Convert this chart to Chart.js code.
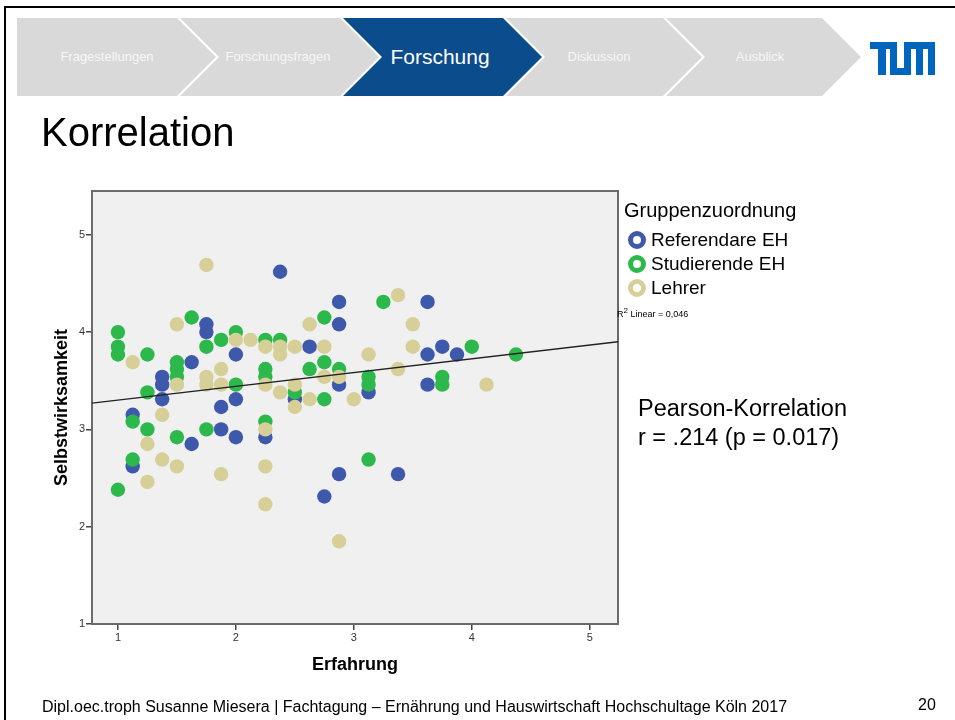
<!DOCTYPE html>
<html lang="de">
<head>
  <meta charset="UTF-8">
  <title>Korrelation</title>
  <script src="https://cdn.jsdelivr.net/npm/chart.js"></script>
  <style>
    body {
      margin: 0;
      width: 955px;
      height: 720px;
      position: relative;
      overflow: hidden;
      background: #ffffff;
      font-family: "Liberation Sans", Arial, sans-serif;
      color: #000;
    }

    #frame {
      position: absolute;
      left: 4px;
      top: 6px;
      width: 960px;
      height: 720px;
      border-left: 2px solid #000;
      border-top: 2px solid #000;
    }

    #chartBox {
      position: absolute;
      left: 0;
      top: 0;
    }

    .txt {
      position: absolute;
      white-space: nowrap;
    }

    .ring {
      position: absolute;
      width: 8px;
      height: 8px;
      border-radius: 50%;
      border: 5.5px solid;
      background: #fff;
    }
  </style>
</head>
<body>
  <div id="frame"></div>

  <svg id="header" width="955" height="110" style="position:absolute;left:0;top:0">
    <polygon points="17,18 177,18 216,57 177,96 17,96" fill="#d9d9d9"/>
    <polygon points="180,18 340,18 379,57 340,96 180,96 219,57" fill="#d9d9d9"/>
    <polygon points="343,18 503,18 542,57 503,96 343,96 382,57" fill="#0a4c8c"/>
    <polygon points="506,18 663,18 702,57 663,96 506,96 545,57" fill="#d9d9d9"/>
    <polygon points="666,18 822,18 861,57 822,96 666,96 705,57" fill="#d9d9d9"/>
    <g font-family="Liberation Sans, Arial, sans-serif" text-anchor="middle" fill="#f7f7f7" font-size="13">
      <text x="107" y="61">Fragestellungen</text>
      <text x="278" y="61">Forschungsfragen</text>
      <text x="440" y="64" font-size="21" fill="#ffffff">Forschung</text>
      <text x="599" y="61">Diskussion</text>
      <text x="760" y="61">Ausblick</text>
    </g>
    <g fill="#0065bd">
      <rect x="870" y="42" width="24" height="7"/>
      <rect x="878" y="42" width="8" height="33"/>
      <rect x="890" y="42" width="7" height="33"/>
      <rect x="890" y="68" width="21" height="7"/>
      <rect x="904" y="42" width="7" height="33"/>
      <rect x="904" y="42" width="31" height="7"/>
      <rect x="916" y="42" width="7" height="33"/>
      <rect x="928" y="42" width="7" height="33"/>
    </g>
  </svg>

  <div id="chartBox"><canvas id="scatter" width="955" height="720"></canvas></div>

  <div class="txt" style="left:41px;top:110px;font-size:40px">Korrelation</div>

  <div class="txt" style="left:624px;top:199px;font-size:20px">Gruppenzuordnung</div>
  <div class="ring" style="left:628px;top:231px;border-color:#3e58ac"></div>
  <div class="txt" style="left:651px;top:229px;font-size:19px">Referendare EH</div>
  <div class="ring" style="left:628px;top:255px;border-color:#2db84c"></div>
  <div class="txt" style="left:651px;top:253px;font-size:19px">Studierende EH</div>
  <div class="ring" style="left:628px;top:279px;border-color:#d6cf98"></div>
  <div class="txt" style="left:651px;top:277px;font-size:19px">Lehrer</div>
  <div class="txt" style="left:617px;top:306px;font-size:9px">R<sup style="font-size:8px">2</sup> Linear = 0,046</div>

  <div class="txt" style="left:638px;top:395px;font-size:23.5px">Pearson-Korrelation</div>
  <div class="txt" style="left:638px;top:424px;font-size:23.5px">r = .214 (p = 0.017)</div>

  <div class="txt" style="left:42px;top:698px;font-size:16px">Dipl.oec.troph Susanne Miesera | Fachtagung – Ernährung und Hauswirtschaft Hochschultage Köln 2017</div>
  <div class="txt" style="left:918px;top:696px;font-size:16px">20</div>

  <script>
    // Gruppen
    const groups = ['Referendare EH', 'Studierende EH', 'Lehrer'];
    const groupColors = ['#3e58ac', '#2db84c', '#d6cf98'];

    // Referendare EH
    const refX = [1.125, 1.125, 1.375, 1.375, 1.375, 1.625, 1.625, 1.75, 1.75, 1.875,
                  1.875, 2.0, 2.0, 2.0, 2.25, 2.375, 2.5, 2.625, 2.75, 2.875,
                  2.875, 2.875, 2.875, 3.125, 3.375, 3.625, 3.625, 3.625, 3.75, 3.875];
    const refY = [3.15, 2.62, 3.54, 3.46, 3.31, 3.69, 2.85, 4.08, 4.0, 3.23,
                  3.0, 3.77, 3.31, 2.92, 2.92, 4.62, 3.31, 3.85, 2.31, 4.31,
                  4.08, 3.46, 2.54, 3.38, 2.54, 4.31, 3.77, 3.46, 3.85, 3.77];

    // Studierende EH
    const stuX = [1.0, 1.0, 1.0, 1.0, 1.125, 1.125, 1.25, 1.25, 1.25, 1.5,
                  1.5, 1.5, 1.5, 1.625, 1.75, 1.75, 1.875, 2.0, 2.0, 2.25,
                  2.25, 2.25, 2.25, 2.375, 2.5, 2.625, 2.75, 2.75, 2.75, 2.875,
                  3.125, 3.125, 3.125, 3.25, 3.75, 3.75, 4.0, 4.375];
    const stuY = [4.0, 3.85, 3.77, 2.38, 3.08, 2.69, 3.77, 3.38, 3.0, 3.69,
                  3.62, 3.54, 2.92, 4.15, 3.85, 3.0, 3.92, 4.0, 3.46, 3.92,
                  3.62, 3.54, 3.08, 3.92, 3.38, 3.62, 4.15, 3.69, 3.31, 3.62,
                  3.54, 3.46, 2.69, 4.31, 3.54, 3.46, 3.85, 3.77];

    // Lehrer
    const lehX = [1.125, 1.25, 1.25, 1.375, 1.375, 1.5, 1.5, 1.5, 1.75, 1.75,
                  1.75, 1.875, 1.875, 1.875, 2.0, 2.125, 2.25, 2.25, 2.25, 2.25,
                  2.25, 2.375, 2.375, 2.375, 2.5, 2.5, 2.5, 2.625, 2.625, 2.75,
                  2.75, 2.875, 2.875, 3.0, 3.125, 3.375, 3.375, 3.5, 3.5, 4.125];
    const lehY = [3.69, 2.85, 2.46, 3.15, 2.69, 4.08, 3.46, 2.62, 4.69, 3.54,
                  3.46, 3.62, 3.46, 2.54, 3.92, 3.92, 3.85, 3.46, 3.0, 2.62,
                  2.23, 3.85, 3.77, 3.38, 3.85, 3.46, 3.23, 4.08, 3.31, 3.85,
                  3.54, 3.54, 1.85, 3.31, 3.77, 4.38, 3.62, 4.08, 3.85, 3.46];

    // Regressionsgerade (R² Linear = 0,046), Endpunkte am Plotrand
    const fitX = [0.78, 5.24];
    const fitY = [3.27, 3.90];

    const xTicks = [1, 2, 3, 4, 5];
    const yTicks = [1, 2, 3, 4, 5];

    const toPoints = (xs, ys) => xs.map((x, i) => ({ x: x, y: ys[i] }));

    // Hintergrund und Rahmen des Plotbereichs
    const plotFrame = {
      id: 'plotFrame',
      beforeDatasetsDraw(chart) {
        const a = chart.chartArea;
        const ctx = chart.ctx;
        ctx.save();
        ctx.fillStyle = '#f0f0f0';
        ctx.fillRect(a.left, a.top, a.right - a.left, a.bottom - a.top);
        ctx.strokeStyle = '#6a6a6a';
        ctx.lineWidth = 2;
        ctx.strokeRect(a.left, a.top, a.right - a.left, a.bottom - a.top);
        ctx.restore();
      }
    };

    const pointSet = (label, xs, ys, color, order) => ({
      label: label,
      data: toPoints(xs, ys),
      backgroundColor: color,
      borderWidth: 0,
      pointRadius: 7.2,
      pointHoverRadius: 7.2,
      order: order
    });

    new Chart(document.getElementById('scatter').getContext('2d'), {
      type: 'scatter',
      data: {
        datasets: [
          {
            type: 'line',
            label: 'Linear',
            data: toPoints(fitX, fitY),
            borderColor: '#222222',
            borderWidth: 1.4,
            pointRadius: 0,
            fill: false,
            order: 0
          },
          pointSet(groups[2], lehX, lehY, groupColors[2], 1),
          pointSet(groups[1], stuX, stuY, groupColors[1], 2),
          pointSet(groups[0], refX, refY, groupColors[0], 3)
        ]
      },
      options: {
        responsive: false,
        animation: false,
        layout: {
          padding: { left: 47, top: 191, right: 337, bottom: 40 }
        },
        plugins: {
          legend: { display: false },
          tooltip: { enabled: false }
        },
        scales: {
          x: {
            type: 'linear',
            min: 0.78,
            max: 5.24,
            afterBuildTicks: s => { s.ticks = xTicks.map(v => ({ value: v })); },
            afterFit: s => { s.height = 56; },
            border: { display: false },
            grid: { drawOnChartArea: false, drawTicks: true, tickLength: 6, color: '#444', lineWidth: 1.5 },
            ticks: { color: '#333', font: { family: 'Liberation Sans', size: 11 }, padding: 1, maxRotation: 0 },
            title: {
              display: true,
              text: 'Erfahrung',
              color: '#000',
              font: { family: 'Liberation Sans', size: 18, weight: 'bold' }
            }
          },
          y: {
            type: 'linear',
            min: 1,
            max: 5.45,
            afterBuildTicks: s => { s.ticks = yTicks.map(v => ({ value: v })); },
            afterFit: s => { s.width = 45; },
            border: { display: false },
            grid: { drawOnChartArea: false, drawTicks: true, tickLength: 6, color: '#444', lineWidth: 1.5 },
            ticks: { color: '#333', font: { family: 'Liberation Sans', size: 11 }, padding: 1 },
            title: {
              display: true,
              text: 'Selbstwirksamkeit',
              color: '#000',
              font: { family: 'Liberation Sans', size: 18, weight: 'bold' }
            }
          }
        }
      },
      plugins: [plotFrame]
    });
  </script>
</body>
</html>
